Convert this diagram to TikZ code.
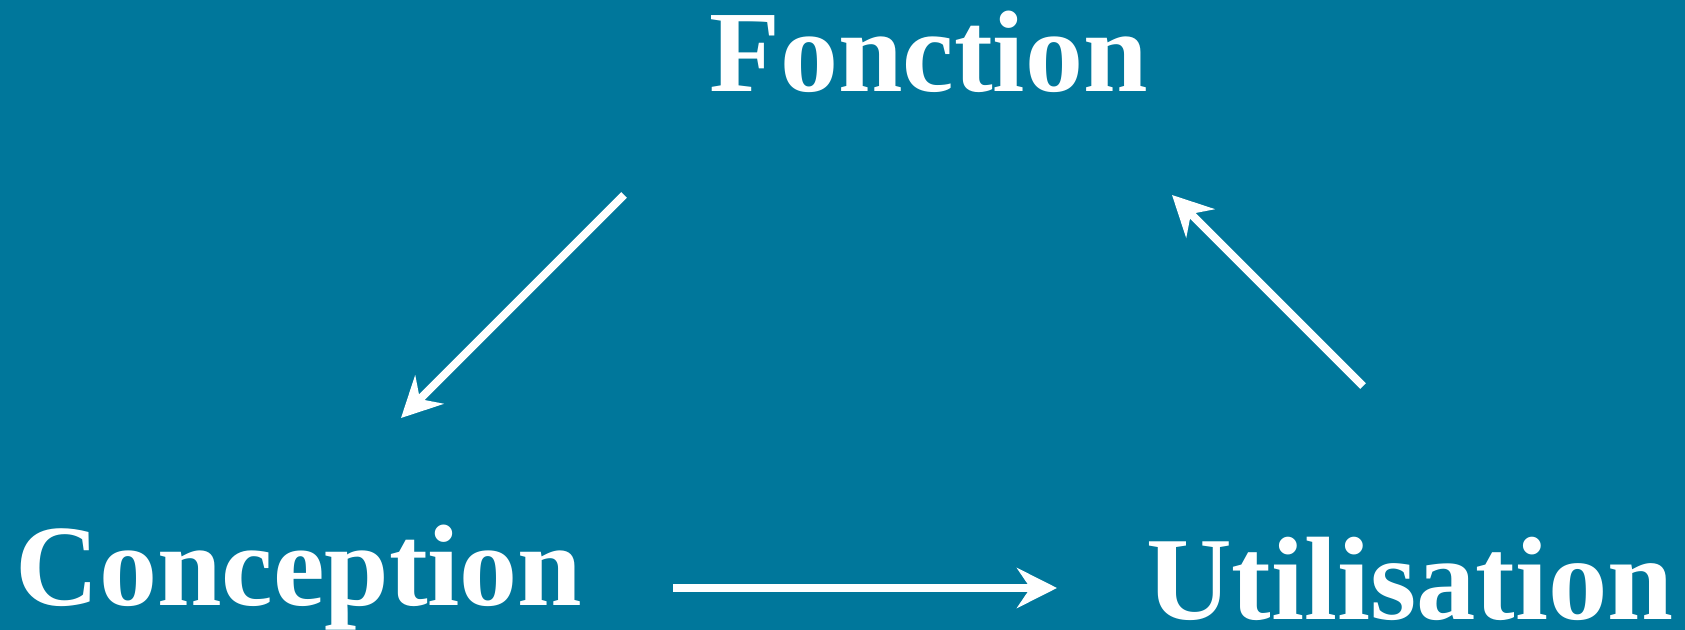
\documentclass[tikz,border=0pt]{standalone}
\usepackage{fontspec}
\setmainfont{Liberation Serif}
\usetikzlibrary{arrows.meta}
\definecolor{bgteal}{RGB}{0,119,155}
\tikzset{
  lbl/.style={text=white, font=\fontsize{87}{87}\selectfont\bfseries, inner sep=0pt, anchor=base west},
  arr/.style={draw=white, line width=6pt, -{Stealth[length=30pt,width=30pt,inset=10pt]}}
}
\begin{document}
\begin{tikzpicture}[x=0.75pt,y=-0.75pt]
\fill[bgteal] (0,0) rectangle (1685,630);
\useasboundingbox (0,0) rectangle (1685,630);
\node[lbl] (fonction) at (709,92) {Fonction};
\node[lbl] (conception) at (15,605) {Conception};
\node[lbl, font=\fontsize{89}{89}\selectfont\bfseries] (utilisation) at (1146,619) {Utilisation};
\coordinate (a1s) at (624,195);
\coordinate (a1e) at (401,418);
\coordinate (a2s) at (1363,386);
\coordinate (a2e) at (1172,195);
\coordinate (a3s) at (673,588);
\coordinate (a3e) at (1057,588);
\draw[arr] (a1s) -- (a1e);
\draw[arr] (a2s) -- (a2e);
\draw[arr] (a3s) -- (a3e);
\end{tikzpicture}
\end{document}
